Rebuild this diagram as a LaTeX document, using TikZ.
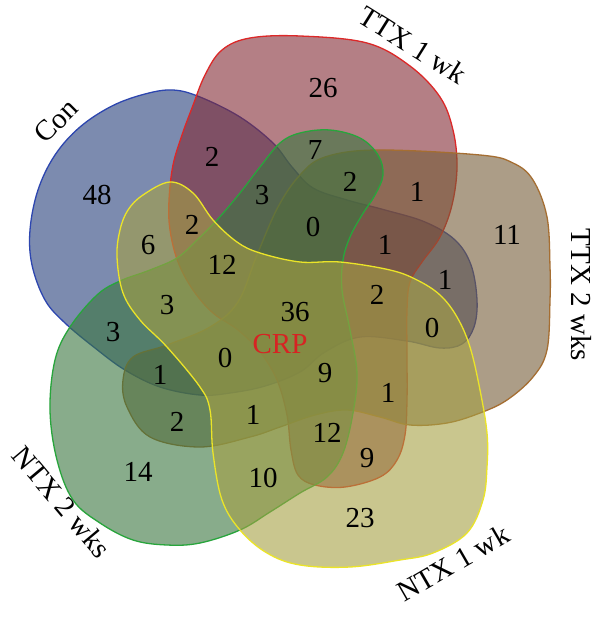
\documentclass[tikz,border=0pt]{standalone}
\usepackage{fontspec}
\setmainfont{Liberation Serif}
\definecolor{bluefill}{RGB}{38,62,123}
\definecolor{blueline}{RGB}{45,70,175}
\definecolor{redfill}{RGB}{130,42,53}
\definecolor{redline}{RGB}{220,40,40}
\definecolor{brownfill}{RGB}{118,92,55}
\definecolor{brownline}{RGB}{165,110,50}
\definecolor{yellowfill}{RGB}{165,160,68}
\definecolor{yellowline}{RGB}{235,228,40}
\definecolor{greenfill}{RGB}{58,118,63}
\definecolor{greenline}{RGB}{40,165,60}
\definecolor{crpred}{RGB}{215,35,35}
\begin{document}
\begin{tikzpicture}[x=1pt,y=-1pt,
  num/.style={font=\fontsize{29}{29}\selectfont, inner sep=0pt},
  lab/.style={font=\fontsize{29}{29}\selectfont, inner sep=0pt},
  setshape/.style={line width=1.3pt, fill opacity=0.6},
  yshape/.style={line width=1.3pt, fill opacity=0.6}]
\useasboundingbox (0,0) rectangle (600,617);
\fill[white] (0,0) rectangle (600,617);
% Con (blue)
\draw[setshape, draw=blueline, fill=bluefill] plot[smooth cycle, tension=0.6] coordinates {
(173,90) (200,97) (240,117) (273,143) (292,167) (313,188) (347,200) (385,210) (425,222) (455,240) (471,265) (477,300) (474,327) (462,344) (440,348) (407,341) (360,337) (325,352) (300,372) (265,386) (230,393) (200,395) (160,387) (125,370) (95,348) (65,323) (45,300) (32,265) (30,230) (38,190) (55,155) (80,127) (112,106) (145,94)};
% TTX 1 wk (red)
\draw[setshape, draw=redline, fill=redfill] plot[smooth cycle, tension=0.6] coordinates {
(205,75) (222,50) (250,38) (300,36) (367,43) (410,66) (440,97) (453,130) (457,167) (452,205) (440,237) (422,262) (410,282) (407,310) (407,355) (407,400) (405,435) (397,460) (380,477) (345,487) (315,485) (298,475) (291,450) (287,415) (277,380) (260,352) (238,330) (213,313) (193,290) (178,262) (170,230) (169,200) (173,165) (182,135) (192,108)};
% TTX 2 wks (brown)
\draw[setshape, draw=brownline, fill=brownfill] plot[smooth cycle, tension=0.6] coordinates {
(123,380) (133,357) (167,345) (210,327) (238,302) (257,255) (278,207) (300,175) (325,157) (377,150) (480,155) (513,163) (533,180) (547,217) (550,267) (550,300) (547,350) (533,377) (507,400) (480,413) (447,423) (410,425) (380,417) (347,410) (315,415) (280,427) (250,437) (200,447) (150,437) (127,407)};
% NTX 2 wks (green)
\draw[setshape, draw=greenline, fill=greenfill] plot[smooth cycle, tension=0.6] coordinates {
(70,327) (55,360) (50,410) (57,460) (73,500) (100,523) (133,540) (167,545) (200,543) (240,530) (270,512) (300,493) (327,477) (343,453) (353,413) (357,373) (350,330) (342,290) (343,260) (350,237) (362,215) (375,195) (383,175) (378,155) (360,138) (330,130) (300,133) (280,143) (260,167) (240,193) (217,220) (197,240) (177,258) (150,270) (120,281) (97,295)};
% NTX 1 wk (yellow)
\draw[yshape, draw=yellowline, fill=yellowfill] plot[smooth cycle, tension=0.6] coordinates {
(143,195) (170,182) (193,193) (213,220) (237,242) (260,253) (300,262) (340,262) (390,270) (417,280) (440,295) (457,317) (470,347) (480,390) (487,433) (487,467) (483,500) (467,533) (433,553) (400,560) (350,567) (300,565) (267,553) (240,530) (222,500) (213,453) (210,410) (200,387) (167,347) (140,320) (123,293) (117,257) (120,230) (128,210)};
% set labels
\node[lab, rotate=45] (lcon) at (56,121) {Con};
\node[lab, rotate=-32] (lttx1) at (413,45) {TTX 1 wk};
\node[lab, rotate=-90] (lttx2) at (581,295) {TTX 2 wks};
\node[lab, rotate=30] (lntx1) at (453,563) {NTX 1 wk};
\node[lab, rotate=-50] (lntx2) at (62,502) {NTX 2 wks};
% region counts
\node[num] (r48) at (97,195) {48};
\node[num] (r26) at (323,88) {26};
\node[num] (r11) at (507,235) {11};
\node[num] (r23) at (360,518) {23};
\node[num] (r14) at (138,472) {14};
\node[num] (rbr) at (212,157) {2};
\node[num] (r3a) at (262,195) {3};
\node[num] (r6) at (148,245) {6};
\node[num] (r2b) at (192,225) {2};
\node[num] (r12a) at (222,265) {12};
\node[num] (r7) at (315,150) {7};
\node[num] (r2c) at (350,182) {2};
\node[num] (r1a) at (417,192) {1};
\node[num] (r0a) at (313,227) {0};
\node[num] (r1b) at (385,245) {1};
\node[num] (r1c) at (445,280) {1};
\node[num] (r2d) at (377,295) {2};
\node[num] (r0b) at (432,328) {0};
\node[num] (r36) at (295,312) {36};
\node[num, text=crpred] (crp) at (280,344) {CRP};
\node[num] (r9a) at (325,373) {9};
\node[num] (r1d) at (388,393) {1};
\node[num] (r12b) at (327,433) {12};
\node[num] (r9b) at (367,458) {9};
\node[num] (r10) at (263,478) {10};
\node[num] (r1e) at (253,415) {1};
\node[num] (r0c) at (225,358) {0};
\node[num] (r1f) at (160,375) {1};
\node[num] (r2e) at (177,422) {2};
\node[num] (r3b) at (113,332) {3};
\node[num] (r3c) at (167,305) {3};
\end{tikzpicture}
\end{document}
